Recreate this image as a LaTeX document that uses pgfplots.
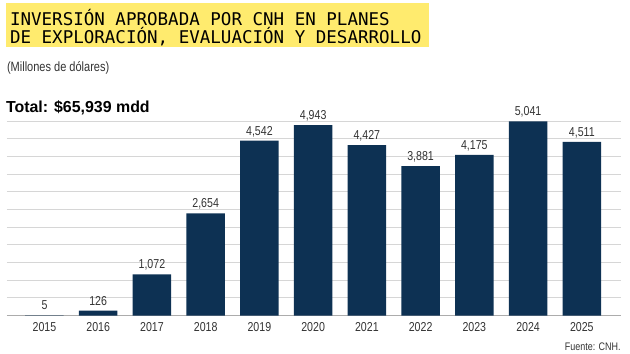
\documentclass[border=0pt]{standalone}
\usepackage{pgfplots}
\pgfplotsset{compat=1.18}
\usepackage{fontspec}
\setmainfont{Liberation Sans}
\newfontfamily\cond[FakeStretch=0.82]{Liberation Sans}
\newfontfamily\monof{DejaVu Sans Mono}
\definecolor{navy}{HTML}{0D3153}
\definecolor{ylw}{HTML}{FFEB6E}
\definecolor{gridc}{HTML}{D6D6D6}
\definecolor{txt}{HTML}{333333}
\begin{document}
\begin{tikzpicture}
\begin{scope}[x=1pt,y=1pt]
\useasboundingbox (-4,-38) rectangle (626,317);
\fill[ylw] (-1,270) rectangle (424,314);
\node[anchor=base west, inner sep=0, font=\monof\fontsize{17.6}{19}\selectfont] at (3,291) {INVERSIÓN APROBADA POR CNH EN PLANES};
\node[anchor=base west, inner sep=0, font=\monof\fontsize{17.6}{19}\selectfont] at (3,273) {DE EXPLORACIÓN, EVALUACIÓN Y DESARROLLO};
\node[anchor=base west, inner sep=0, text=txt, font=\cond\fontsize{13.5}{15}\selectfont] at (0,245) {(Millones de dólares)};
\node[anchor=base west, inner sep=0, font=\bfseries\fontsize{16}{18}\selectfont] at (-1,204) {Total: \$65,939 mdd};
\node[anchor=base east, inner sep=0, text=txt, font=\cond\fontsize{11}{12}\selectfont] at (616.7,-34.7) {Fuente: CNH.};
\end{scope}
\begin{axis}[
  at={(0pt,0pt)}, anchor=south west,
  scale only axis, width=617pt, height=195.3pt,
  xmin=-0.7, xmax=10.73, ymin=0, ymax=5049,
  enlargelimits=false,
  ybar, bar width=38.7pt,
  axis x line*=bottom, axis y line*=left,
  x axis line style={draw=gray!65, line width=1pt, -},
  y axis line style={draw=none},
  xtick={0,...,10},
  xticklabels={2015,2016,2017,2018,2019,2020,2021,2022,2023,2024,2025},
  xticklabel style={anchor=base, yshift=-16.3pt, inner sep=0, text=txt, font=\cond\fontsize{13}{14}\selectfont},
  major tick length=0pt,
  ytick={0,459,...,5049},
  yticklabels={},
  ymajorgrids, major grid style={draw=gridc, line width=1.2pt},
  nodes near coords,
  every node near coord/.append style={anchor=base, yshift=5.5pt, inner sep=0, text=txt, font=\cond\fontsize{13}{14}\selectfont},
  /pgf/number format/.cd, 1000 sep={,}, assume math mode=true,
]
\addplot[fill=navy, draw=none] coordinates {
(0,5) (1,126) (2,1072) (3,2654) (4,4542) (5,4943) (6,4427) (7,3881) (8,4175) (9,5041) (10,4511)};
\end{axis}
\end{tikzpicture}
\end{document}
